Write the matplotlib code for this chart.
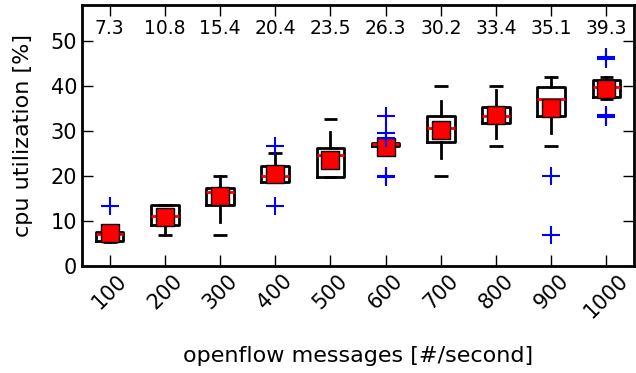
import matplotlib
matplotlib.use('Agg')
import matplotlib.pyplot as plt

rates = [100, 200, 300, 400, 500, 600, 700, 800, 900, 1000]
means = [7.3, 10.8, 15.4, 20.4, 23.5, 26.3, 30.2, 33.4, 35.1, 39.3]
q1 = [5.5, 9.0, 13.4, 18.7, 19.8, 26.7, 27.6, 31.8, 33.2, 37.5]
med = [7.0, 11.1, 16.3, 20.0, 24.6, 27.0, 30.6, 33.3, 37.1, 39.7]
q3 = [7.5, 13.4, 17.2, 22.2, 26.1, 27.2, 33.2, 35.3, 39.7, 41.3]
whis_lo = [5.3, 6.7, 9.8, 18.7, 19.8, 26.7, 23.9, 28.4, 29.6, 37.0]
whis_hi = [7.5, 13.4, 20.0, 25.0, 29.7, 27.2, 36.7, 39.0, 42.0, 42.0]
cap_lo = [5.3, 6.7, 6.7, 18.7, 19.8, 26.7, 20.0, 26.7, 26.7, 37.0]
cap_hi = [7.5, 13.4, 20.0, 25.0, 32.6, 27.2, 40.0, 40.0, 42.0, 42.0]
fliers = [[13.3], [], [], [26.7, 13.3], [], [33.3, 29.5, 28.3, 20.0, 19.7],
          [], [], [20.0, 6.7], [46.5, 45.9, 33.5, 33.1]]

fig = plt.figure(figsize=(6.36, 3.73), dpi=100)
ax = fig.add_axes([0.129, 0.288, 0.868, 0.699])

pos = list(range(1, len(rates) + 1))
stats = [dict(med=m, q1=a, q3=b, whislo=wl, whishi=wh, fliers=[])
         for m, a, b, wl, wh in zip(med, q1, q3, whis_lo, whis_hi)]
ax.bxp(stats, positions=pos, widths=0.5, showcaps=False, showfliers=False,
       boxprops=dict(color='black', linewidth=2),
       whiskerprops=dict(color='black', linewidth=2, linestyle='-'),
       medianprops=dict(color='red', linewidth=2))

# caps sit at min / max, not always at whisker ends
ax.hlines(cap_lo, [p - 0.125 for p in pos], [p + 0.125 for p in pos], colors='black', linewidth=2)
ax.hlines(cap_hi, [p - 0.125 for p in pos], [p + 0.125 for p in pos], colors='black', linewidth=2)

ax.plot(pos, means, 's', color='red', markeredgecolor='black', markersize=12.5, zorder=4)

for p, fl in zip(pos, fliers):
    if fl:
        ax.plot([p] * len(fl), fl, '+', color='blue', markersize=13, markeredgewidth=1.5, zorder=5)

for p, m in zip(pos, means):
    ax.text(p, 52.8, f'{m}', ha='center', va='center', fontsize=13.5)

ax.set_xlim(0.5, 10.5)
ax.set_ylim(0, 58)
ax.set_yticks([0, 10, 20, 30, 40, 50])
ax.set_xticks(pos)
ax.set_xticklabels([str(r) for r in rates], rotation=45, fontsize=15)
ax.tick_params(axis='y', labelsize=15)
ax.tick_params(direction='in', length=8, width=1, top=True, right=True)
for sp in ax.spines.values():
    sp.set_linewidth(2)
ax.set_xlabel('openflow messages [#/second]', fontsize=16, labelpad=17)
ax.set_ylabel('cpu utilization [%]', fontsize=16, labelpad=13)

fig.savefig('out.png', dpi=100)
